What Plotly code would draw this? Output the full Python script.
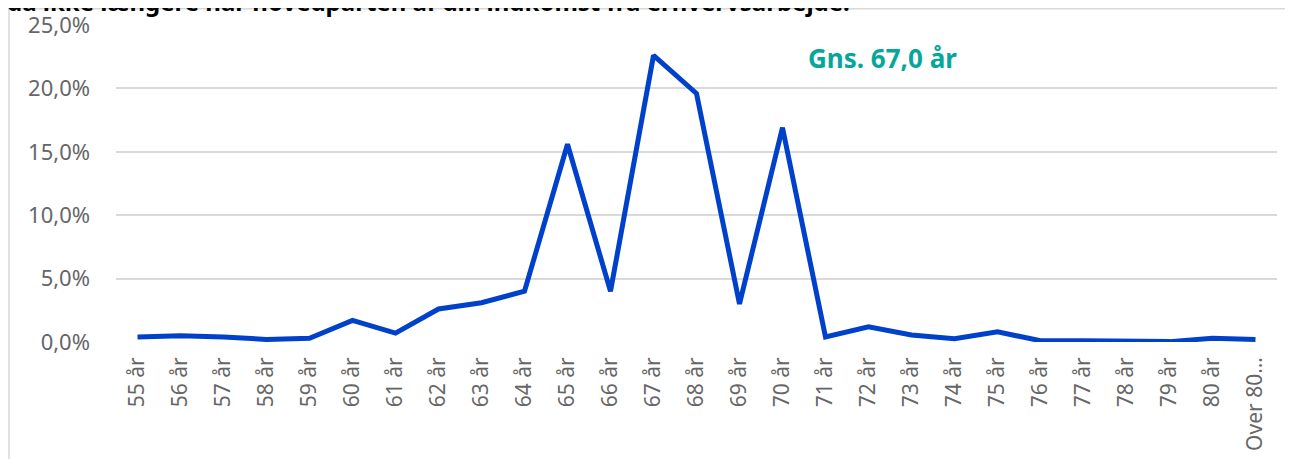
import plotly.graph_objects as go

categories = ["55 år", "56 år", "57 år", "58 år", "59 år", "60 år", "61 år", "62 år", "63 år",
              "64 år", "65 år", "66 år", "67 år", "68 år", "69 år", "70 år", "71 år", "72 år",
              "73 år", "74 år", "75 år", "76 år", "77 år", "78 år", "79 år", "80 år", "Over 80…"]
values = [0.004, 0.005, 0.004, 0.002, 0.003, 0.017, 0.007, 0.026, 0.031,
          0.040, 0.156, 0.040, 0.226, 0.196, 0.030, 0.169, 0.004, 0.012,
          0.0055, 0.0025, 0.008, 0.001, 0.001, 0.001, 0.0003, 0.003, 0.002]
y_ticks = [0, 0.05, 0.10, 0.15, 0.20, 0.25]
title_text = "da ikke længere har hovedparten af din indkomst fra erhvervsarbejde."
avg_label = "Gns. 67,0 år"

FONT = "Noto Sans"
OFF = 8  # page body margin
W, H = 1293 - OFF, 459 - OFF
ML, MR, MT, MB = 108, 16, 17, 117
PW, PH = W - ML - MR, H - MT - MB

def px_x(p):
    # p in figure pixels
    return (p - ML) / PW

def px_y(p):
    return 1 + (MT - p) / PH

fig = go.Figure()
fig.add_trace(go.Scatter(
    x=list(range(len(categories))), y=values, mode="lines",
    line=dict(color="#0041CC", width=5),
    hoverinfo="skip", showlegend=False,
))

fig.update_layout(
    width=W, height=H,
    margin=dict(l=ML, r=MR, t=MT, b=MB, autoexpand=False),
    paper_bgcolor="white", plot_bgcolor="white",
    separators=",.",
    font=dict(family=FONT, color="#666666"),
    xaxis=dict(
        tickmode="array", tickvals=list(range(len(categories))), ticktext=categories,
        range=[-0.5, len(categories) - 0.5], tickangle=-90, automargin=False,
        showgrid=False, zeroline=False, showline=False, ticks="",
        tickfont=dict(size=21, color="#666666", family=FONT),
        ticklabelstandoff=10,
    ),
    yaxis=dict(
        range=[0, 0.25], tickmode="array", tickvals=y_ticks, tickformat=".1%",
        automargin=False,
        showgrid=True, gridcolor="#d9d9d9", gridwidth=1.5,
        zeroline=False, showline=False, ticks="",
        tickfont=dict(size=22, color="#666666", family=FONT),
        ticklabelstandoff=25,
    ),
    shapes=[
        dict(type="line", xref="paper", yref="paper",
             x0=px_x(1), x1=px_x(W + 5), y0=px_y(0.8), y1=px_y(0.8),
             line=dict(color="#d9d9d9", width=1.5)),
        dict(type="line", xref="paper", yref="paper",
             x0=px_x(1), x1=px_x(1), y0=px_y(0), y1=px_y(H + 5),
             line=dict(color="#d9d9d9", width=1.5)),
    ],
    annotations=[
        dict(text=f"<b>{title_text}</b>", xref="paper", yref="paper",
             x=px_x(-3), y=px_y(11.5), xanchor="left", yanchor="bottom",
             showarrow=False, font=dict(size=24, color="#000000", family=FONT)),
        dict(text=f"<b>{avg_label}</b>", xref="paper", yref="paper",
             x=px_x(874), y=px_y(50), xanchor="center", yanchor="middle",
             showarrow=False, font=dict(size=26, color="#06A79A", family=FONT)),
    ],
)

fig.write_html("out.html")
